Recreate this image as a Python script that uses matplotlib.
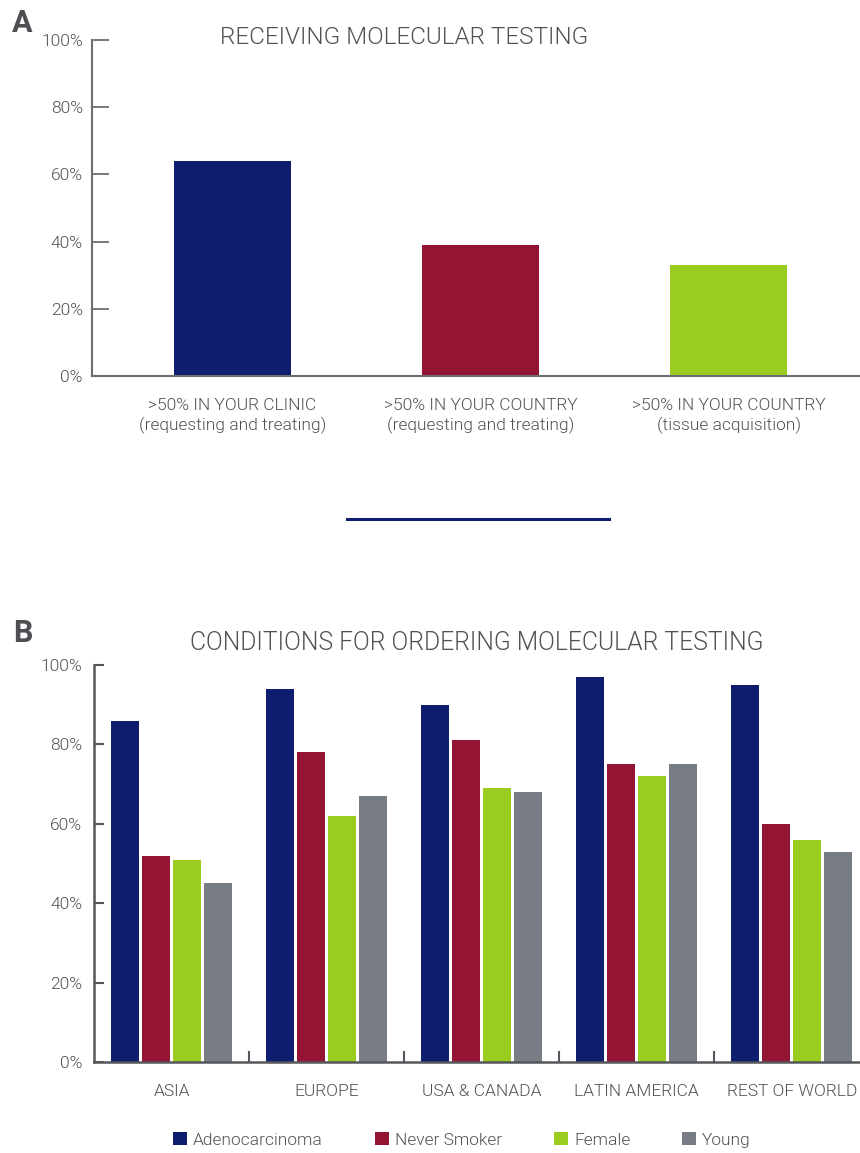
import matplotlib
matplotlib.use("Agg")
import matplotlib.pyplot as plt
from matplotlib.patches import Patch
from matplotlib.lines import Line2D
import numpy as np

plt.rcParams['font.family'] = ['Roboto', 'DejaVu Sans']
plt.rcParams['font.weight'] = 300

# ---- Data ----
a_categories = [">50% IN YOUR CLINIC\n(requesting and treating)",
                ">50% IN YOUR COUNTRY\n(requesting and treating)",
                ">50% IN YOUR COUNTRY\n(tissue acquisition)"]
a_values = [64, 39, 33]

b_regions = ["ASIA", "EUROPE", "USA & CANADA", "LATIN AMERICA", "REST OF WORLD"]
b_series = ["Adenocarcinoma", "Never Smoker", "Female", "Young"]
adeno = [86, 94, 90, 97, 95]
never_smoker = [52, 78, 81, 75, 60]
female = [51, 62, 69, 72, 56]
young = [45, 67, 68, 75, 53]

yticks = [0, 20, 40, 60, 80, 100]
ytick_labels = ["0%", "20%", "40%", "60%", "80%", "100%"]

NAVY = "#0f1d6e"
RED = "#941433"
GREEN = "#9acd1f"
GRAY = "#787c84"
TEXT = "#4f5155"
SPINE = "#6d6e73"
colors = [NAVY, RED, GREEN, GRAY]

fig = plt.figure(figsize=(8.6, 11.53), dpi=100)

# ---- Panel A ----
axA = fig.add_axes([92/860, 1-376/1153, 1-92/860, (376-40)/1153])
xa = np.arange(len(a_values))
axA.bar(xa, a_values, width=0.47, color=[NAVY, RED, GREEN])
axA.set_xlim(-0.567, 2.53)
axA.set_ylim(0, 100)
axA.set_yticks(yticks)
axA.set_yticklabels(ytick_labels)
axA.set_xticks(xa)
axA.set_xticklabels(a_categories, linespacing=1.3)
axA.tick_params(axis='x', length=0, pad=16, labelsize=12.5, labelcolor=TEXT)
axA.tick_params(axis='y', direction='in', length=12, width=1.3, color=SPINE,
                labelsize=12.5, labelcolor=TEXT, pad=6.5)
for s in ['top', 'right']:
    axA.spines[s].set_visible(False)
for s in ['left', 'bottom']:
    axA.spines[s].set_color(SPINE)
    axA.spines[s].set_linewidth(1.5)
fig.text(404/860, 1-37/1153, "RECEIVING MOLECULAR TESTING", ha='center', va='center',
         fontsize=17.5, color=TEXT)
fig.text(12/860, 1-32/1153, "A", ha='left', va='baseline', fontsize=22,
         fontweight='bold', color="#4d4f53")

# divider
fig.add_artist(Line2D([347/860, 609/860], [1-519/1153, 1-519/1153],
                      color=NAVY, lw=2.2))

# ---- Panel B ----
axB = fig.add_axes([94/860, 1-1062/1153, 1-94/860, (1062-665)/1153])
xb = np.arange(len(b_regions))
offsets = [-0.3, -0.1, 0.1, 0.3]
for vals, off, col, name in zip([adeno, never_smoker, female, young], offsets, colors, b_series):
    axB.bar(xb + off, vals, width=0.181, color=col, label=name)
axB.set_xlim(-0.5, 4.44)
axB.set_ylim(0, 100)
axB.set_yticks(yticks)
axB.set_yticklabels(ytick_labels)
axB.set_xticks(xb)
axB.set_xticklabels(b_regions)
axB.set_xticks(np.arange(0.5, 4.0, 1.0), minor=True)
axB.tick_params(axis='x', which='major', length=0, pad=16, labelsize=12.5, labelcolor=TEXT)
axB.tick_params(axis='x', which='minor', direction='in', length=8, width=1.5, color="#55575c")
axB.tick_params(axis='y', direction='in', length=7, width=1.5, color="#55575c",
                labelsize=12.5, labelcolor=TEXT, pad=8.5)
for s in ['top', 'right']:
    axB.spines[s].set_visible(False)
for s in ['left', 'bottom']:
    axB.spines[s].set_color("#55575c")
    axB.spines[s].set_linewidth(1.8)
fig.text(477/860, 1-643/1153, "CONDITIONS FOR ORDERING MOLECULAR TESTING", ha='center',
         va='center', fontsize=17.8, color=TEXT)
fig.text(13/860, 1-642/1153, "B", ha='left', va='baseline', fontsize=22,
         fontweight='bold', color="#4d4f53")

handles = [Patch(facecolor=c, edgecolor='none') for c in colors]
fig.legend(handles, b_series, loc='center', bbox_to_anchor=(462/860, 1-1140/1153),
           ncol=4, frameon=False, fontsize=12.5, labelcolor=TEXT,
           handlelength=0.8, handleheight=0.8, handletextpad=0.35,
           columnspacing=3.0)

fig.savefig("out.png", dpi=100)
